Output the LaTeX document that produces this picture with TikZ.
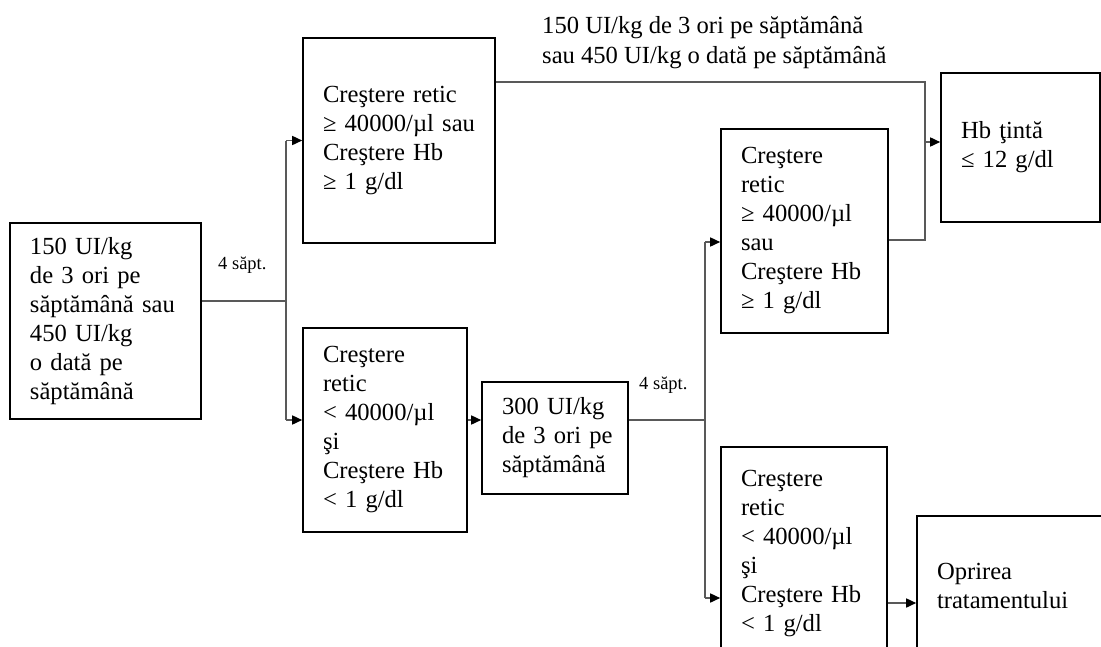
\documentclass[tikz,border=0pt]{standalone}
\usepackage{fontspec}
\setmainfont{Liberation Serif}
\usetikzlibrary{arrows.meta}
\begin{document}
\begin{tikzpicture}[x=1pt,y=-1pt,
  box/.style={draw=black, line width=1.6pt, rectangle, align=left, inner xsep=20pt, inner ysep=0pt, font=\fontsize{24.6}{29}\selectfont},
  conn/.style={draw=black!65, line width=1.6pt},
  arr/.style={conn, -{Triangle[length=10pt,width=9pt,color=black]}},
  small/.style={font=\fontsize{18.5}{22}\selectfont, inner sep=0pt, anchor=base west},
  toplbl/.style={font=\fontsize{24.6}{30}\selectfont, align=left, inner sep=0pt, anchor=base west}]
\useasboundingbox (0,0) rectangle (1101,646);
\clip (0,0) rectangle (1101,646);

\node[box, minimum width=191pt, minimum height=196pt, text width=151pt] (A) at (105.5,321)
  {150~UI/kg\\de~3~ori~pe\\săptămână~sau\\450~UI/kg\\o~dată~pe\\săptămână};
\node[box, minimum width=192pt, minimum height=205pt, text width=152pt] (B) at (399,140.5)
  {Creştere~retic\\≥~40000/µl~sau\\Creştere~Hb\\≥~1~g/dl};
\node[box, minimum width=164pt, minimum height=204pt, text width=124pt] (D) at (385,430)
  {Creştere\\retic\\<~40000/µl\\şi\\Creştere~Hb\\<~1~g/dl};
\node[box, minimum width=146pt, minimum height=112pt, text width=106pt] (E) at (555,438)
  {300~UI/kg\\de~3~ori~pe\\săptămână};
\node[box, minimum width=167pt, minimum height=204pt, text width=127pt] (C) at (804.5,231)
  {Creştere\\retic\\≥~40000/µl\\sau\\Creştere~Hb\\≥~1~g/dl};
\node[box, minimum width=166pt, minimum height=214pt, text width=126pt] (F) at (804,554)
  {Creştere\\retic\\<~40000/µl\\şi\\Creştere~Hb\\<~1~g/dl};
\node[box, minimum width=159pt, minimum height=149pt, text width=119pt] (H) at (1020.5,147.5)
  {Hb~ţintă\\≤~12~g/dl};
\node[box, minimum width=200pt, minimum height=140pt, text width=160pt] (G) at (1017,586)
  {Oprirea\\tratamentului};

\node[toplbl] (T) at (542,63) {150 UI/kg de 3 ori pe săptămână\\sau 450 UI/kg o dată pe săptămână};
\node[small] (L1) at (218,269) {4 săpt.};
\node[small] (L2) at (639,389) {4 săpt.};

% first split
\coordinate (s1) at (286,301);
\coordinate (s1d) at (286,420);
\draw[conn] (A.east |- s1) -- (s1);
\draw[conn] (s1 |- B.west) -- (s1d);
\draw[arr] (s1 |- B.west) -- (B.west);
\draw[arr] (s1d) -- (D.west |- s1d);
\draw[arr] (D.east |- s1d) -- (E.west |- s1d);

% second split
\coordinate (s2) at (705,420);
\coordinate (s2c) at (705,242);
\coordinate (s2f) at (705,598);
\draw[conn] (E.east |- s2) -- (s2);
\draw[conn] (s2c) -- (s2f);
\draw[arr] (s2c) -- (C.west |- s2c);
\draw[arr] (s2f) -- (F.west |- s2f);
\coordinate (fg) at (900,603);
\draw[arr] (F.east |- fg) -- (G.west |- fg);

% to target
\coordinate (j1) at (925,82);
\coordinate (j2) at (925,240);
\coordinate (jh) at (925,142);
\draw[conn] (B.east |- j1) -- (j1) -- (j2) -- (C.east |- j2);
\draw[arr] (jh) -- (H.west |- jh);
\end{tikzpicture}
\end{document}
